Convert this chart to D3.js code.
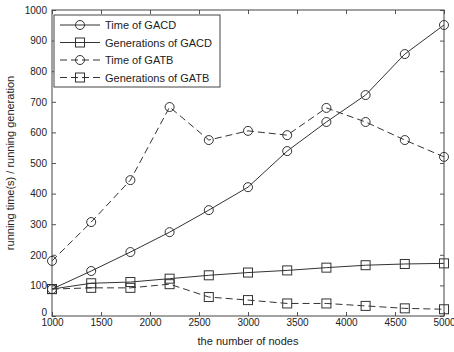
<!DOCTYPE html>
<html>
<head>
<meta charset="utf-8">
<script src="https://cdn.jsdelivr.net/npm/d3@7"></script>
<style>
  body { margin: 0; background: #fff; }
  text { font-family: "Liberation Sans", Arial, sans-serif; fill: #222; }
</style>
</head>
<body>
<script>
// node counts on the x axis
const nodes = [1000, 1400, 1800, 2200, 2600, 3000, 3400, 3800, 4200, 4600, 5000];

const timeGACD = [88, 147, 209, 274, 346, 421, 539, 634, 722, 856, 951];
const genGACD  = [88, 107, 111, 122, 133, 142, 149, 158, 166, 170, 172];
const timeGATB = [180, 307, 444, 683, 575, 605, 591, 680, 634, 575, 520];
const genGATB  = [88, 92, 92, 104, 62, 52, 41, 41, 33, 25, 22];

const xTicks = [1000, 1500, 2000, 2500, 3000, 3500, 4000, 4500, 5000];
const yTicks = [0, 100, 200, 300, 400, 500, 600, 700, 800, 900, 1000];

const series = [
  { name: "Time of GACD", values: timeGACD, marker: "circle", dash: null },
  { name: "Generations of GACD", values: genGACD, marker: "square", dash: null },
  { name: "Time of GATB", values: timeGATB, marker: "circle", dash: "7,4" },
  { name: "Generations of GATB", values: genGATB, marker: "square", dash: "7,4" }
];

const W = 454, H = 352;
const margin = { top: 10, right: 10, bottom: 36, left: 52 };
const iw = W - margin.left - margin.right;
const ih = H - margin.top - margin.bottom;

const svg = d3.select("body").append("svg").attr("width", W).attr("height", H);
const g = svg.append("g").attr("transform", `translate(${margin.left},${margin.top})`);

const x = d3.scaleLinear().domain([1000, 5000]).range([0, iw]);
const y = d3.scaleLinear().domain([0, 1000]).range([ih, 0]);

const lineCol = "#333";
const fmt = d3.format("d");

// axes: ticks point inward like matlab
const xAxis = d3.axisBottom(x).tickValues(xTicks).tickFormat(fmt)
  .tickSizeInner(-4).tickSizeOuter(0).tickPadding(3);
const yAxis = d3.axisLeft(y).tickValues(yTicks).tickFormat(fmt)
  .tickSizeInner(-4).tickSizeOuter(0).tickPadding(5);

const gx = g.append("g").attr("transform", `translate(0,${ih})`).call(xAxis);
const gy = g.append("g").call(yAxis);
g.append("g").call(d3.axisTop(x).tickValues(xTicks).tickSizeInner(-4).tickSizeOuter(0).tickFormat(""));
g.append("g").attr("transform", `translate(${iw},0)`)
  .call(d3.axisRight(y).tickValues(yTicks).tickSizeInner(-4).tickSizeOuter(0).tickFormat(""));

g.selectAll(".domain").remove();
g.selectAll(".tick line").attr("stroke", "#555");
g.append("rect").attr("width", iw).attr("height", ih)
  .attr("fill", "none").attr("stroke", "#444").attr("stroke-width", 1);

[gx, gy].forEach(a => a.selectAll("text").style("font-size", "10px").attr("fill", "#222"));
// matlab puts the 0 label a bit higher than the 1000 x label
gy.selectAll(".tick text").filter(d => d === 0).attr("dy", "-0.1em");

svg.append("text").attr("x", margin.left + iw / 2).attr("y", H - 7)
  .attr("text-anchor", "middle").style("font-size", "11px").text("the number of nodes");
svg.append("text")
  .attr("transform", `translate(14,${margin.top + ih / 2}) rotate(-90)`)
  .attr("text-anchor", "middle").style("font-size", "11px")
  .text("running time(s) / running generation");

function drawMarker(sel, type) {
  if (type === "circle") {
    sel.append("circle").attr("r", 4.5);
  } else {
    sel.append("rect").attr("x", -4.5).attr("y", -4.5).attr("width", 9).attr("height", 9);
  }
  sel.selectAll("circle, rect").attr("fill", "none").attr("stroke", lineCol).attr("stroke-width", 1);
}

const line = d3.line().x((d, i) => x(nodes[i])).y(d => y(d));

series.forEach(s => {
  g.append("path").datum(s.values)
    .attr("d", line)
    .attr("fill", "none")
    .attr("stroke", lineCol)
    .attr("stroke-width", 1)
    .attr("stroke-dasharray", s.dash);
  g.selectAll(null).data(s.values).enter().append("g")
    .attr("transform", (d, i) => `translate(${x(nodes[i])},${y(d)})`)
    .each(function () { drawMarker(d3.select(this), s.marker); });
});

// legend
const lg = svg.append("g").attr("transform", "translate(54,15)");
lg.append("rect").attr("width", 166).attr("height", 72)
  .attr("fill", "#fff").attr("stroke", "#444");
series.forEach((s, i) => {
  const row = lg.append("g").attr("transform", `translate(0,${10 + i * 17.5})`);
  row.append("line").attr("x1", 6).attr("x2", 46).attr("y1", 0).attr("y2", 0)
    .attr("stroke", lineCol).attr("stroke-dasharray", s.dash);
  const m = row.append("g").attr("transform", "translate(26,0)");
  drawMarker(m, s.marker);
  row.append("text").attr("x", 51).attr("y", 4).style("font-size", "11px").text(s.name);
});
</script>
</body>
</html>
